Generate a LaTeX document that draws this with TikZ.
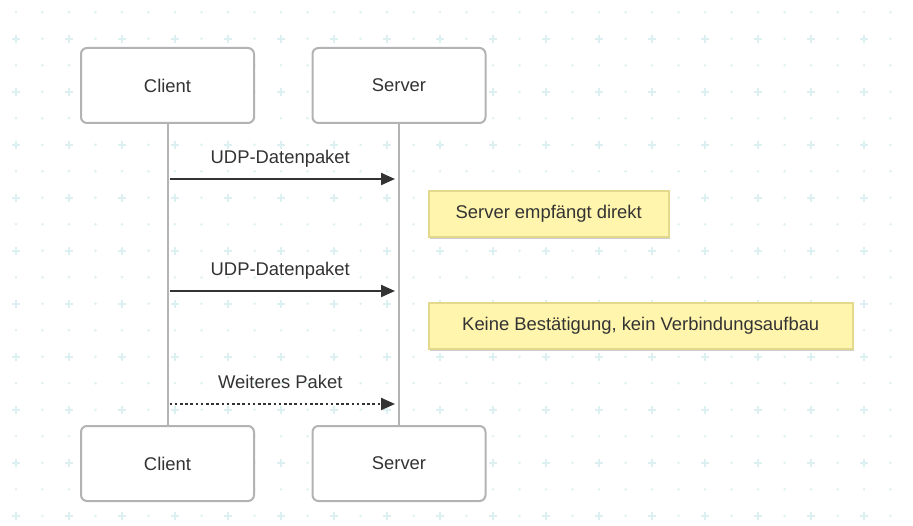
\documentclass[tikz,border=0pt]{standalone}
\usepackage{fontspec}
\setmainfont{Liberation Sans}
\usepackage{xcolor}
\usetikzlibrary{positioning,arrows.meta,shadows}

\definecolor{gridcol}{HTML}{DCEFF1}
\definecolor{boxline}{HTML}{B3B3B3}
\definecolor{msgcol}{HTML}{333333}
\definecolor{notefill}{HTML}{FFF5AD}
\definecolor{noteline}{HTML}{E3D98C}

\begin{document}
\begin{tikzpicture}[x=1pt,y=-1pt,
    every node/.style={font=\fontsize{18.4}{22}\selectfont,text=msgcol},
    actor/.style={draw=boxline,line width=2pt,fill=white,rounded corners=6pt,
      minimum width=173pt,minimum height=75pt,inner sep=0pt,on grid},
    life/.style={draw=boxline,line width=2pt},
    msg/.style={draw=msgcol,line width=2.2pt,-{Triangle[length=14pt,width=12pt]}},
    msglabel/.style={inner sep=0pt,text height=13.2pt,text depth=4pt,above=10pt,xshift=-2pt},
    note/.style={draw=noteline,line width=1.5pt,fill=notefill,minimum height=46pt,
      inner sep=0pt,anchor=west,
      drop shadow={shadow xshift=1pt,shadow yshift=-2pt,opacity=.2,fill=black}}]
  \useasboundingbox[fill=white] (0,0) rectangle (913,526);
  % dotted background
  \foreach \i in {0,...,33}{
    \foreach \j in {0,...,19}{
      \pgfmathtruncatemacro\isplus{(1-mod(\i,2))*mod(\j,2)}
      \path (16+26.5*\i,12.3+26.5*\j) coordinate (g);
      \ifnum\isplus=1
        \draw[gridcol,line width=1.8pt] (g) +(-4,0) -- +(4,0) (g) +(0,-4) -- +(0,4);
      \else
        \fill[gridcol] (g) circle (1.3pt);
      \fi
    }
  }
  \node[actor] (client) at (167.5,85.5) {Client};
  \node[actor,right=231.5pt of client] (server) {Server};
  \node[actor,below=378pt of client] (clientb) {Client};
  \node[actor,below=378pt of server] (serverb) {Server};
  \draw[life] (client) -- (clientb);
  \draw[life] (server) -- (serverb);
  % messages
  \coordinate (m1a) at ([xshift=2pt,yshift=-55pt]client.south);
  \coordinate (m1b) at ([xshift=-4pt,yshift=-55pt]server.south);
  \coordinate (m2a) at ([xshift=2pt,yshift=-167pt]client.south);
  \coordinate (m2b) at ([xshift=-4pt,yshift=-167pt]server.south);
  \coordinate (m3a) at ([xshift=2pt,yshift=-280pt]client.south);
  \coordinate (m3b) at ([xshift=-4pt,yshift=-280pt]server.south);
  \draw[msg] (m1a) -- node[msglabel] {UDP-Datenpaket} (m1b);
  \node[note,minimum width=240pt] (note1) at ([xshift=29pt,yshift=-90pt]server.south) {Server empfängt direkt};
  \draw[msg] (m2a) -- node[msglabel] {UDP-Datenpaket} (m2b);
  \node[note,minimum width=424pt] (note2) at ([xshift=29pt,yshift=-202pt]server.south) {Keine Bestätigung, kein Verbindungsaufbau};
  \draw[msg,dash pattern=on 2.7pt off 2.5pt] (m3a) -- node[msglabel] {Weiteres Paket} (m3b);
\end{tikzpicture}
\end{document}
